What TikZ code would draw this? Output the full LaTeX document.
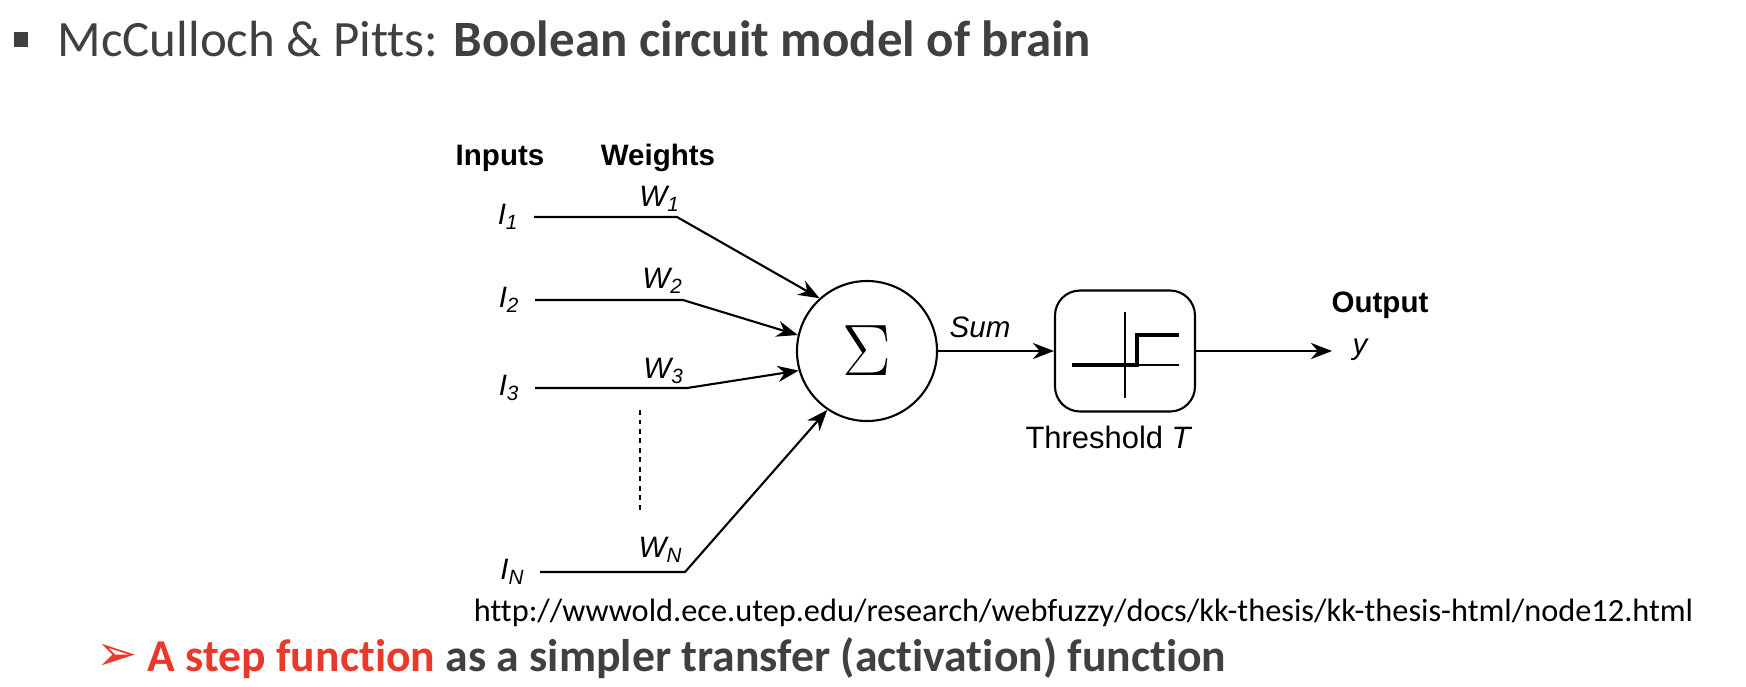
\documentclass[tikz,border=0pt]{standalone}
\usepackage{fontspec}
\setmainfont{Carlito}[Ligatures=NoCommon]
\newfontfamily\figfont{Liberation Sans}
\newfontfamily\symfont{DejaVu Sans}
\usetikzlibrary{arrows.meta}
\definecolor{slidegray}{HTML}{404040}
\definecolor{slidered}{HTML}{E8392B}

\tikzset{
  lbl/.style={font=\figfont\fontsize{8.4}{10}\selectfont, inner sep=0pt},
  lblbold/.style={font=\figfont\bfseries\fontsize{8.4}{10}\selectfont, inner sep=0pt},
  wire/.style={line width=0.6pt},
  arr/.style={wire, -{Stealth[length=6pt,width=4.6pt]}},
}

\begin{document}
\begin{tikzpicture}[x=1cm,y=-1cm]
\useasboundingbox (0,0) rectangle (17.46,6.86);
% slide text
\fill[slidegray] (0.14,0.32) rectangle (0.28,0.47);
\node[anchor=base west, inner sep=0pt, text=slidegray, font=\fontsize{14.5}{18}\selectfont] (title) at (0.57,0.56) {McCulloch \& Pitts: \textbf{Boolean circuit model of brain}};

% column heads
\node[lblbold] (inputs) at (5.00,1.58) {Inputs};
\node[lblbold] (weights) at (6.58,1.58) {Weights};

% inputs
\node[lbl, anchor=east, inner xsep=4pt] (i1) at (5.34,2.17) {\itshape I\textsubscript{1}};
\node[lbl, anchor=east, inner xsep=4pt] (i2) at (5.35,3.00) {\itshape I\textsubscript{2}};
\node[lbl, anchor=east, inner xsep=4pt] (i3) at (5.35,3.88) {\itshape I\textsubscript{3}};
\node[lbl, anchor=east, inner xsep=4pt] (iN) at (5.40,5.72) {\itshape I\textsubscript{N}};

\coordinate (k1) at (6.77,2.17);
\coordinate (k2) at (6.83,3.00);
\coordinate (k3) at (6.87,3.88);
\coordinate (kN) at (6.85,5.72);

% weights
\node[lbl] (w1) at (6.60,1.99) {\itshape W\textsubscript{1}};
\node[lbl] (w2) at (6.63,2.81) {\itshape W\textsubscript{2}};
\node[lbl] (w3) at (6.64,3.71) {\itshape W\textsubscript{3}};
\node[lbl] (wN) at (6.61,5.50) {\itshape W\textsubscript{N}};

% summing unit
\node[draw, wire, circle, minimum size=1.40cm, inner sep=0pt, font=\fontsize{21.6}{24}\selectfont] (sum) at (8.67,3.51) {$\Sigma$};

\draw[arr] (i1.east) -- (k1) -- (sum.132);
\draw[arr] (i2.east) -- (k2) -- (sum.167);
\draw[arr] (i3.east) -- (k3) -- (sum.196);
\draw[arr] (iN.east) -- (kN) -- (sum.236);

\coordinate (dtop) at (6.40,4.10);
\coordinate (dbot) at (6.40,5.13);
\draw[wire, dash pattern=on 1.4pt off 1.3pt] (dtop) -- (dbot);

% threshold unit
\node[draw, wire, rounded corners=0.25cm, minimum width=1.40cm, minimum height=1.21cm] (thr) at (11.25,3.51) {};
\draw[arr] (sum.east) -- (thr.west);
\node[lbl] (sumlbl) at (9.80,3.27) {\itshape Sum};
\node[lbl, font=\figfont\fontsize{8.8}{10}\selectfont] (thrlbl) at (11.09,4.37) {Threshold \textit{T}};

\draw[wire] (11.25,3.12) -- (11.25,3.98);
\draw[wire] (10.72,3.65) -- (11.79,3.65);
\draw[line width=1.4pt] (10.72,3.65) -- (11.37,3.65) -- (11.37,3.35) -- (11.79,3.35);

% output
\coordinate (yout) at (13.32,3.51);
\draw[arr] (thr.east) -- (yout);
\node[lblbold] (outlbl) at (13.80,3.05) {Output};
\node[lbl] (ylbl) at (13.60,3.50) {\itshape y};

% reference and note
\node[anchor=base east, inner sep=0pt, font=\fontsize{9.2}{12}\selectfont] (url) at (16.94,6.21) {http://wwwold.ece.utep.edu/research/webfuzzy/docs/kk-thesis/kk-thesis-html/node12.html};
\node[inner sep=0pt, text=slidered, font=\symfont\fontsize{14}{16}\selectfont] (mark) at (1.17,6.57) {➢};
\node[anchor=base west, inner sep=0pt, text=slidegray, font=\bfseries\fontsize{13}{15}\selectfont] (note) at (1.47,6.71) {\textcolor{slidered}{A step function} as a simpler transfer (activation) function};
\end{tikzpicture}
\end{document}
